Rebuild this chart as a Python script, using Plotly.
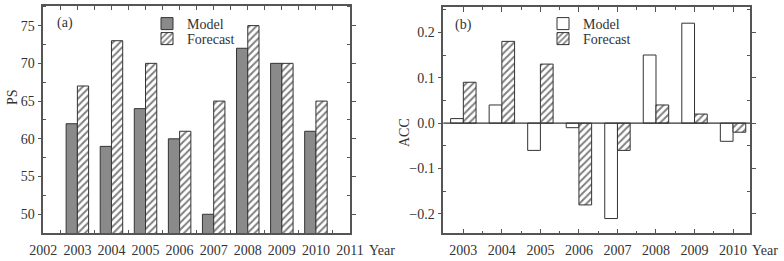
import plotly.graph_objects as go

years = [2003, 2004, 2005, 2006, 2007, 2008, 2009, 2010]
ps_model = [62, 59, 64, 60, 50, 72, 70, 61]
ps_forecast = [67, 73, 70, 61, 65, 75, 70, 65]
acc_model = [0.01, 0.04, -0.06, -0.01, -0.21, 0.15, 0.22, -0.04]
acc_forecast = [0.09, 0.18, 0.13, -0.18, -0.06, 0.04, 0.02, -0.02]
left_ticks = list(range(2002, 2012))

W, H = 784, 261
FONT = "Liberation Serif"
AX = "#555555"
TXT = "#333333"

fig = go.Figure()

hatch = dict(shape="/", fgcolor="#000000", bgcolor="white", size=5, solidity=0.4)

fig.add_trace(go.Bar(x=years, y=ps_model, name="Model", xaxis="x", yaxis="y",
                     marker=dict(color="#8a8a8a", line=dict(color="#333333", width=1)),
                     legend="legend"))
fig.add_trace(go.Bar(x=years, y=ps_forecast, name="Forecast", xaxis="x", yaxis="y",
                     marker=dict(color="white", pattern=hatch, line=dict(color="#333333", width=1)),
                     legend="legend2"))
fig.add_trace(go.Bar(x=years, y=acc_model, name="Model", xaxis="x2", yaxis="y2",
                     marker=dict(color="white", line=dict(color="#333333", width=1)),
                     legend="legend3"))
fig.add_trace(go.Bar(x=years, y=acc_forecast, name="Forecast", xaxis="x2", yaxis="y2",
                     marker=dict(color="white", pattern=hatch, line=dict(color="#333333", width=1)),
                     legend="legend4"))

def px(x):
    return x / W

def py(y):
    return 1 - y / H

axis_common = dict(showline=True, linecolor=AX, linewidth=1.5, mirror="ticks",
                   showgrid=False, zeroline=False, tickcolor=AX, automargin=False,
                   tickfont=dict(family=FONT, size=14, color=TXT))

def leg(x, y):
    return dict(x=px(x), y=py(y), xanchor="left", yanchor="middle",
                bgcolor="rgba(0,0,0,0)", itemwidth=30, borderwidth=0,
                font=dict(family=FONT, size=14, color=TXT))

fig.update_layout(
    width=W, height=H,
    margin=dict(l=0, r=0, t=0, b=0, autoexpand=False),
    paper_bgcolor="white", plot_bgcolor="white",
    barmode="group",
    bargap=0.34, bargroupgap=0,
    showlegend=True,
    font=dict(family=FONT, size=14, color=TXT),
    xaxis=dict(domain=[px(43.3), px(350)], anchor="y", range=[2002, 2011],
               tickmode="array", tickvals=left_ticks, ticktext=[str(v) for v in left_ticks],
               ticks="inside", ticklen=4, ticklabelstandoff=3,
               minor=dict(tickmode="linear", tick0=2002.5, dtick=1, ticks="inside", ticklen=4, tickcolor=AX),
               **axis_common),
    yaxis=dict(domain=[py(233.3), py(6)], anchor="x", range=[47.48, 77.6],
               tickmode="array", tickvals=[50, 55, 60, 65, 70, 75],
               ticks="outside", ticklen=4,
               minor=dict(tickmode="linear", tick0=47.5, dtick=5, ticks="inside", ticklen=3, tickcolor=AX),
               **axis_common),
    xaxis2=dict(domain=[px(443.3), px(750)], anchor="y2", range=[2002.48, 2010.44],
                tickmode="array", tickvals=years, ticktext=[str(v) for v in years],
                ticks="inside", ticklen=5, ticklabelstandoff=3,
                minor=dict(tickmode="linear", tick0=2002.5, dtick=1, ticks="inside", ticklen=3, tickcolor=AX),
                **axis_common),
    yaxis2=dict(domain=[py(233.3), py(7.3)], anchor="x2", range=[-0.2425, 0.255],
                tickmode="array", tickvals=[-0.2, -0.1, 0.0, 0.1, 0.2], tickformat=".1f",
                ticks="outside", ticklen=4,
                minor=dict(tickmode="linear", tick0=-0.25, dtick=0.1, ticks="inside", ticklen=3, tickcolor=AX),
                **axis_common),
    legend=leg(147, 24),
    legend2=leg(147, 39),
    legend3=leg(543, 24),
    legend4=leg(543, 39),
)

# zero line on the ACC panel
fig.add_shape(type="line", xref="x2 domain", yref="y2", x0=0, x1=1, y0=0, y1=0,
              line=dict(color="#333333", width=1.2), layer="above")

annos = [
    dict(text="(a)", x=px(55), y=py(23), xanchor="left", yanchor="middle"),
    dict(text="(b)", x=px(453), y=py(25), xanchor="left", yanchor="middle"),
    dict(text="PS", x=px(12), y=py(97), textangle=-90, xanchor="center", yanchor="middle"),
    dict(text="ACC", x=px(404), y=py(132), textangle=-90, xanchor="center", yanchor="middle"),
    dict(text="Year", x=px(367), y=py(250), xanchor="left", yanchor="middle"),
    dict(text="Year", x=px(750), y=py(250), xanchor="left", yanchor="middle"),
]
for a in annos:
    fig.add_annotation(xref="paper", yref="paper", showarrow=False,
                       font=dict(family=FONT, size=14, color=TXT), **a)

fig.write_html("out.html", config={"displayModeBar": False},
               post_script="document.body.style.margin='0';document.body.style.overflow='hidden';")
